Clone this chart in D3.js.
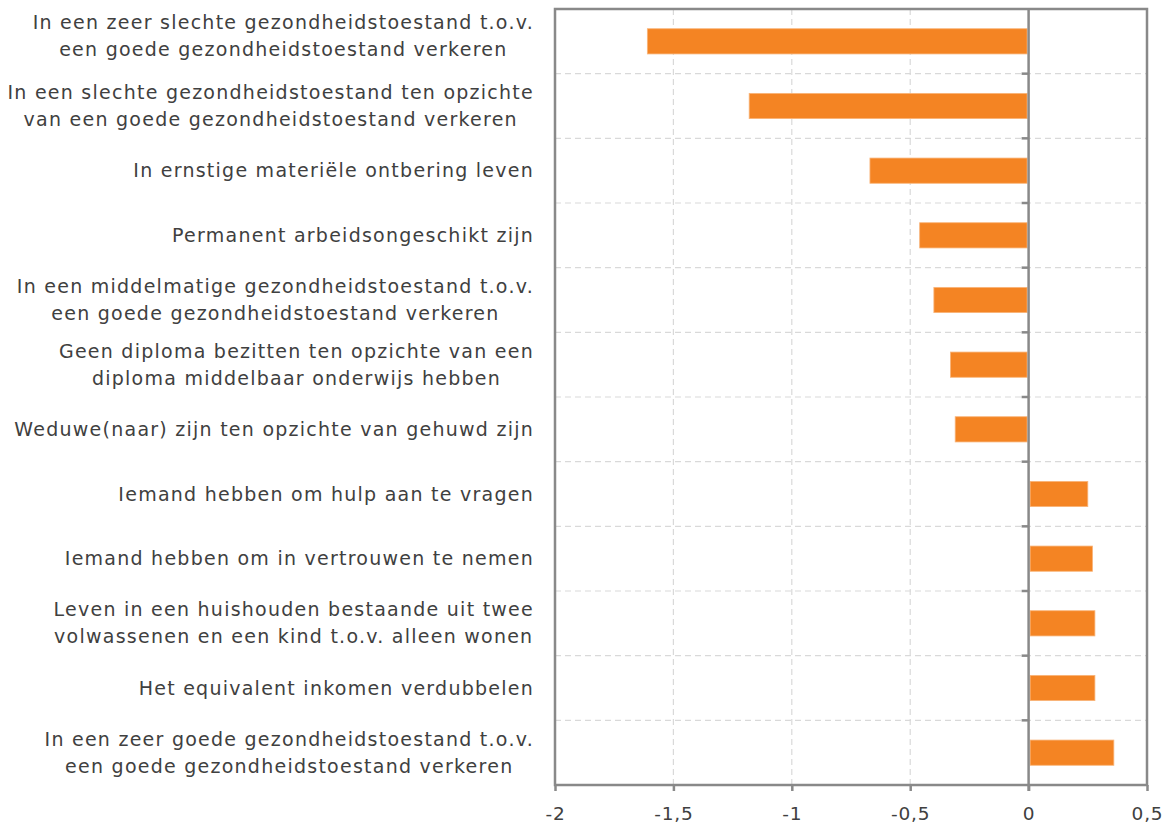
<!DOCTYPE html>
<html><head><meta charset="utf-8">
<script src="https://cdn.jsdelivr.net/npm/d3@7"></script>
<style>body{margin:0;background:#fff}svg{display:block}</style>
</head><body><svg id="c" width="1164" height="823"></svg>
<script>
const categories = [
  ["In een zeer slechte gezondheidstoestand t.o.v.", "een goede gezondheidstoestand verkeren"],
  ["In een slechte gezondheidstoestand ten opzichte", "van een goede gezondheidstoestand verkeren"],
  ["In ernstige materiële ontbering leven"],
  ["Permanent arbeidsongeschikt zijn"],
  ["In een middelmatige gezondheidstoestand t.o.v.", "een goede gezondheidstoestand verkeren"],
  ["Geen diploma bezitten ten opzichte van een", "diploma middelbaar onderwijs hebben"],
  ["Weduwe(naar) zijn ten opzichte van gehuwd zijn"],
  ["Iemand hebben om hulp aan te vragen"],
  ["Iemand hebben om in vertrouwen te nemen"],
  ["Leven in een huishouden bestaande uit twee", "volwassenen en een kind t.o.v. alleen wonen"],
  ["Het equivalent inkomen verdubbelen"],
  ["In een zeer goede gezondheidstoestand t.o.v.", "een goede gezondheidstoestand verkeren"]
];
const values = [-1.61, -1.18, -0.67, -0.46, -0.40, -0.33, -0.31, 0.25, 0.27, 0.28, 0.28, 0.36];
const xTicks = [-2, -1.5, -1, -0.5, 0, 0.5];
const xTickLabels = ["-2", "-1,5", "-1", "-0,5", "0", "0,5"];

const svg = d3.select("#c");
const L = 555, R = 1147, T = 9, B = 785;
const font = "'DejaVu Sans', sans-serif";
const textCol = "#404040", axisCol = "#898989", gridCol = "#d9d9d9";

const x = d3.scaleLinear().domain([-2, 0.5]).range([L, R]);
const y = d3.scaleBand().domain(d3.range(categories.length)).range([T, B]).paddingInner(0).paddingOuter(0);

// horizontal dashed gridlines at category boundaries
const bounds = d3.range(1, categories.length).map(i => y(i));
svg.append("g").selectAll("line").data(bounds).join("line")
  .attr("x1", L).attr("x2", R).attr("y1", d => d).attr("y2", d => d)
  .attr("stroke", gridCol).attr("stroke-width", 1.2).attr("stroke-dasharray", "6,4");
// vertical dashed gridlines
svg.append("g").selectAll("line").data(xTicks.filter(v => v > -2 && v < 0)).join("line")
  .attr("x1", d => x(d)).attr("x2", d => x(d)).attr("y1", T).attr("y2", B)
  .attr("stroke", gridCol).attr("stroke-width", 1.2).attr("stroke-dasharray", "6,4");

// bars
const bh = y.bandwidth() * 0.39;
svg.append("g").selectAll("rect").data(values).join("rect")
  .attr("x", d => d < 0 ? x(d) : x(0) + 1.5)
  .attr("width", d => Math.abs(x(d) - x(0)) - 1.5)
  .attr("y", (d, i) => y(i) + (y.bandwidth() - bh) / 2)
  .attr("height", bh)
  .attr("fill", "#f48423").attr("stroke", "#f9b57a").attr("stroke-width", 0.8);

// zero axis line with ticks
svg.append("line").attr("x1", x(0)).attr("x2", x(0)).attr("y1", T).attr("y2", B + 6)
  .attr("stroke", axisCol).attr("stroke-width", 2.5);
svg.append("g").selectAll("line").data(bounds).join("line")
  .attr("x1", x(0) - 7).attr("x2", x(0)).attr("y1", d => d).attr("y2", d => d)
  .attr("stroke", axisCol).attr("stroke-width", 2.5);

// frame
svg.append("rect").attr("x", L).attr("y", T).attr("width", R - L).attr("height", B - T)
  .attr("fill", "none").attr("stroke", axisCol).attr("stroke-width", 2.5);

// bottom axis
const xAxis = d3.axisBottom(x).tickValues(xTicks).tickSize(6).tickPadding(16)
  .tickFormat((d, i) => xTickLabels[i]);
const gx = svg.append("g").attr("transform", `translate(0,${B})`).call(xAxis);
gx.select(".domain").remove();
gx.selectAll(".tick line").attr("stroke", axisCol).attr("stroke-width", 2.5);
gx.selectAll(".tick text").attr("fill", textCol).attr("font-family", font)
  .attr("font-size", 18.5).attr("letter-spacing", "0.8px");

// category labels
const rightEdge = 534;
const lineH = 27;
const lg = svg.append("g").attr("font-family", font).attr("font-size", 19)
  .attr("letter-spacing", "1.25px").attr("fill", textCol);
categories.forEach((lines, i) => {
  const cy = y(i) + y.bandwidth() / 2;
  const t = lg.append("text").attr("text-anchor", "middle");
  lines.forEach((ln, j) => {
    t.append("tspan").attr("x", 0).attr("y", cy + (j - (lines.length - 1) / 2) * lineH).attr("dy", "0.35em").text(ln);
  });
  const bb = t.node().getBBox();
  // keep the label block inside the top of the chart area, as in the reference
  const shift = Math.min(0, (bb.y + bb.height / 2) - Math.max(bb.y + bb.height / 2, 0) ) ;
  t.attr("transform", `translate(${rightEdge - bb.width / 2},${i === 0 ? -5 : shift})`);
});
</script></body></html>
